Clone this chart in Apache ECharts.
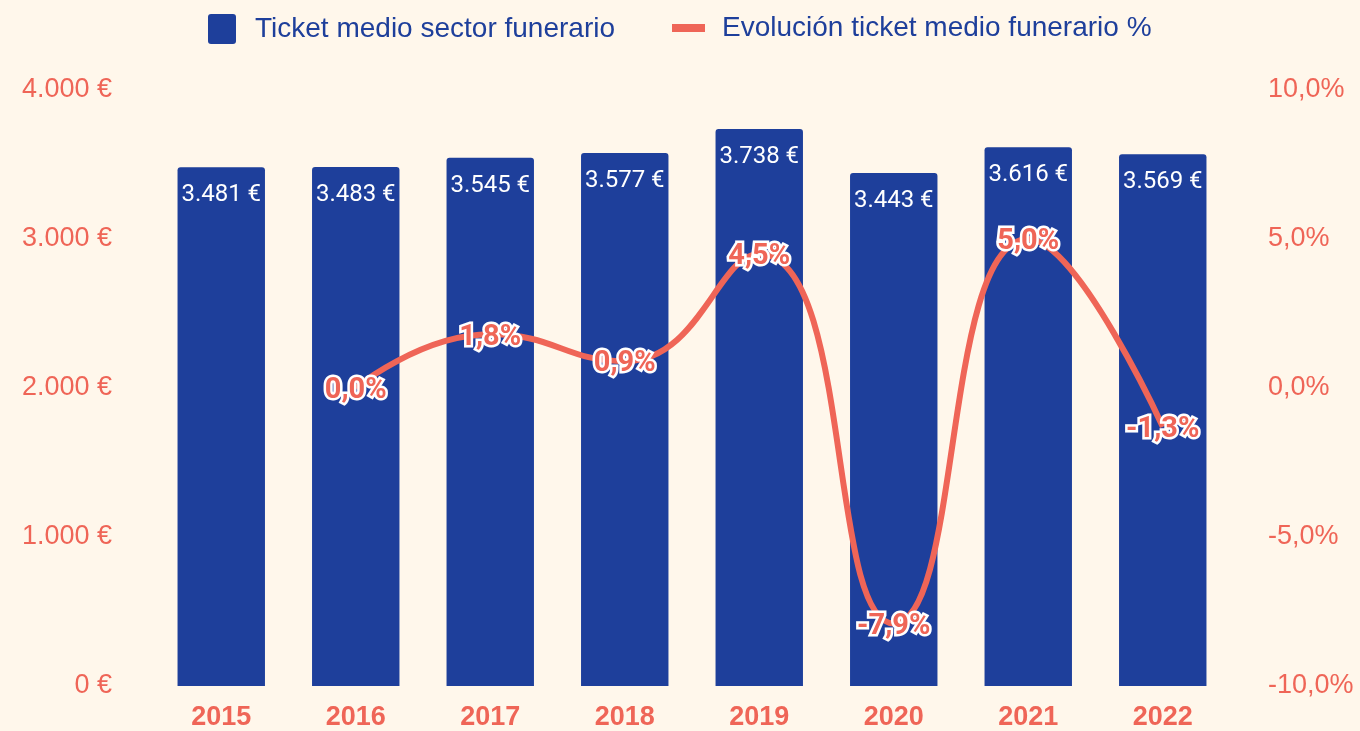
<!DOCTYPE html>
<html>
<head>
<meta charset="utf-8">
<script src="https://cdn.jsdelivr.net/npm/echarts@6/dist/echarts.min.js"></script>
<style>
  html, body { margin: 0; padding: 0; background: #fff7eb; }
  #ticketChart { width: 1360px; height: 731px; }
</style>
</head>
<body>
<div id="ticketChart"></div>
<script>
var years = ["2015", "2016", "2017", "2018", "2019", "2020", "2021", "2022"];
var ticketMedio = [3481, 3483, 3545, 3577, 3738, 3443, 3616, 3569];
var evolucion = [null, 0.0, 1.8, 0.9, 4.5, -7.9, 5.0, -1.3];

var azul = "#1e3f9b";
var coral = "#ef6557";

function fmtEuro(v) {
  return String(v).replace(/\B(?=(\d{3})+(?!\d))/g, ".") + " €";
}
function fmtPct(v) {
  return v.toFixed(1).replace(".", ",") + "%";
}

var chart = echarts.init(document.getElementById("ticketChart"));
chart.setOption({
  backgroundColor: "#fff7eb",
  animation: false,
  legend: [
    {
      data: [{ name: "Ticket medio sector funerario", icon: "path://M3,0h22a3,3 0 0 1 3,3v24a3,3 0 0 1 -3,3h-22a3,3 0 0 1 -3,-3v-24a3,3 0 0 1 3,-3z" }],
      left: 203,
      top: 9,
      itemWidth: 28,
      itemHeight: 30,
      textStyle: { color: azul, fontSize: 28, fontFamily: "Liberation Sans", padding: [0, 0, 0, 14] }
    },
    {
      data: [{ name: "Evolución ticket medio funerario %", icon: "rect" }],
      left: 667,
      top: 9,
      itemWidth: 33,
      itemHeight: 8,
      textStyle: { color: azul, fontSize: 28, fontFamily: "Liberation Sans", padding: [0, 0, 0, 12] }
    }
  ],
  grid: {
    left: 154,
    right: 130,
    top: 90,
    bottom: 45
  },
  xAxis: {
    type: "category",
    data: years,
    axisLine: { show: false },
    axisTick: { show: false },
    axisLabel: {
      color: coral,
      fontSize: 27,
      fontWeight: "bold",
      fontFamily: "Liberation Sans",
      margin: 18
    }
  },
  yAxis: [
    {
      type: "value",
      min: 0,
      max: 4000,
      interval: 1000,
      splitLine: { show: false },
      axisLabel: {
        color: coral,
        fontSize: 27,
        fontFamily: "Liberation Sans",
        margin: 42,
        formatter: fmtEuro
      }
    },
    {
      type: "value",
      min: -10,
      max: 10,
      interval: 5,
      splitLine: { show: false },
      axisLabel: {
        color: coral,
        fontSize: 27,
        fontFamily: "Liberation Sans",
        margin: 38,
        formatter: fmtPct
      }
    }
  ],
  series: [
    {
      name: "Ticket medio sector funerario",
      type: "bar",
      data: ticketMedio,
      barWidth: "65%",
      itemStyle: { color: azul, borderRadius: [3, 3, 0, 0] },
      label: {
        show: true,
        position: "insideTop",
        distance: 16,
        color: "#ffffff",
        fontSize: 24,
        fontFamily: "Roboto",
        formatter: function (p) { return fmtEuro(p.value); }
      }
    },
    {
      name: "Evolución ticket medio funerario %",
      type: "line",
      yAxisIndex: 1,
      data: evolucion,
      smooth: 0.5,
      symbol: "circle",
      symbolSize: 1,
      lineStyle: { color: coral, width: 6 },
      itemStyle: { color: coral },
      label: {
        show: true,
        position: "inside",
        offset: [0, 3],
        color: coral,
        fontSize: 29,
        fontWeight: "bold",
        fontFamily: "Roboto",
        textBorderColor: "#ffffff",
        textBorderWidth: 5,
        formatter: function (p) { return fmtPct(p.value); }
      }
    }
  ]
});
</script>
</body>
</html>
